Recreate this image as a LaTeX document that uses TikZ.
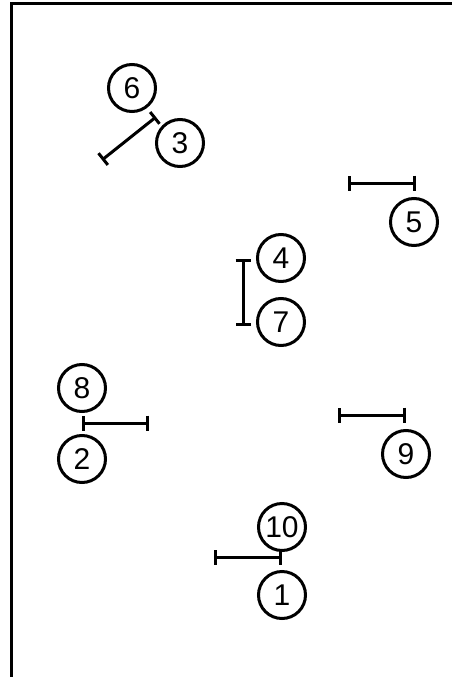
\documentclass[tikz,border=0pt]{standalone}
\usepackage{fontspec}
\setmainfont{Liberation Sans}
\usetikzlibrary{arrows.meta}
\begin{document}
\begin{tikzpicture}[x=1pt,y=-1pt,
  num/.style={circle,draw,line width=3pt,minimum size=47pt,inner sep=0pt,font=\fontsize{30}{30}\selectfont},
  barline/.style={line width=3pt,{Bar[width=15pt,line width=3pt]}-{Bar[width=15pt,line width=3pt]}}]
\useasboundingbox (0,0) rectangle (451,677);
\draw[line width=3pt] (11,690) -- (11,4) -- (460,4);
\node[num] (n6) at (132,88) {6};
\node[num] (n3) at (180,143) {3};
\node[num] (n5) at (414,222) {5};
\node[num] (n4) at (281,258) {4};
\node[num] (n7) at (281,322) {7};
\node[num] (n8) at (82,388) {8};
\node[num] (n2) at (82,459) {2};
\node[num] (n9) at (406,454) {9};
\node[num] (n10) at (282,527) {10};
\node[num] (n1) at (282,595) {1};
\coordinate (a1) at (102,160); \coordinate (a2) at (156,117);
\coordinate (b1) at (348,183); \coordinate (b2) at (416,183);
\coordinate (c1) at (243,259); \coordinate (c2) at (243,326);
\coordinate (d1) at (82,423); \coordinate (d2) at (149,423);
\coordinate (e1) at (338,415); \coordinate (e2) at (406,415);
\coordinate (f1) at (214,557); \coordinate (f2) at (282,557);
\draw[barline] (a1) -- (a2);
\draw[barline] (b1) -- (b2);
\draw[barline] (c1) -- (c2);
\draw[barline] (d1) -- (d2);
\draw[barline] (e1) -- (e2);
\draw[barline] (f1) -- (f2);
\end{tikzpicture}
\end{document}
